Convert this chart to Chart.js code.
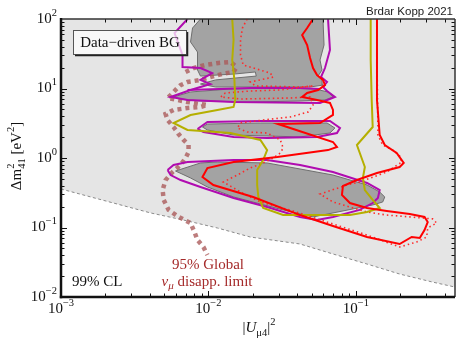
<!DOCTYPE html>
<html>
<head>
<meta charset="utf-8">
<script src="https://cdn.jsdelivr.net/npm/chart.js@4.4.1/dist/chart.umd.min.js"></script>
<style>
  html, body { margin: 0; padding: 0; background: #fff; }
  canvas { display: block; }
</style>
</head>
<body>
<canvas id="chartContours" width="456" height="342"></canvas>
<script>
// axis ranges and decade ticks
const xRange = [1e-3, 0.47];
const yRange = [1e-2, 1e2];
const xTicks = [1e-3, 1e-2, 1e-1];
const xTickLabels = ["\u22123", "\u22122", "\u22121"];
const yTicks = [1e-2, 1e-1, 1, 10, 100];
const yTickLabels = ["\u22122", "\u22121", "0", "1", "2"];

// lower edge of the light shaded region, [|U_mu4|^2, dm2_41]
const bgEdge = [[0.001,0.358],[0.00405,0.162],[0.00678,0.128],[0.0115,0.0984],[0.0192,0.073],[0.0418,0.0579],[0.0699,0.0416],[0.119,0.0298],[0.198,0.0214],[0.331,0.0164],[0.47,0.0139]];

// dark gray allowed islands
const regionA = [[0.00883,100],[0.0078,74.2],[0.00756,46.7],[0.00843,33.5],[0.00843,18.5],[0.00883,15.1],[0.0152,16.2],[0.0208,17.3],[0.0211,15.1],[0.0112,13.3],[0.00883,11.6],[0.0112,10.5],[0.0225,10.5],[0.0489,10.5],[0.0598,11.2],[0.0589,13.3],[0.0554,15.1],[0.0589,18.5],[0.0571,25.7],[0.0608,42.3],[0.0598,100]];
const regionB = [[0.0058,7.55],[0.00756,8.91],[0.0141,9.84],[0.0307,10.2],[0.0528,9.84],[0.0647,8.91],[0.0699,7.55],[0.0617,6.83],[0.0418,6.61],[0.0192,6.39],[0.00883,6.61],[0.00647,7.06]];
const regionC = [[0.00911,2.79],[0.00984,3.08],[0.0225,3.19],[0.0637,3.19],[0.0721,2.70],[0.0667,2.29],[0.0418,2.01],[0.0148,2.14],[0.00984,2.53]];
const regionD = [[0.00598,0.650],[0.00883,0.848],[0.0115,0.876],[0.025,0.848],[0.0699,0.569],[0.119,0.409],[0.145,0.324],[0.157,0.275],[0.152,0.233],[0.130,0.211],[0.0699,0.162],[0.0512,0.142],[0.0321,0.179],[0.0148,0.275],[0.00984,0.383],[0.00756,0.516]];

// purple contours
const purpleOuter = [[0.00721,100],[0.00589,62.9],[0.00667,30.3],[0.00667,20.4],[0.00883,19.7],[0.0106,16.7],[0.00883,13.3],[0.0103,11.6],[0.00756,9.52],[0.00554,7.55],[0.00721,6.83],[0.0148,6.39],[0.0571,6.19],[0.0721,7.55],[0.0637,9.20],[0.0598,10.5],[0.0637,12.4],[0.058,14.6],[0.0617,19.7],[0.0667,35.8],[0.0647,100]];
const purpleGap = [[0.00721,9.52],[0.0192,10.2],[0.0418,10.2],[0.0571,9.84]];
const purpleMid = [[0.00843,2.61],[0.00984,3.30],[0.0225,3.41],[0.0667,3.41],[0.078,2.70],[0.0744,2.29],[0.0545,2.01],[0.025,1.94],[0.0148,2.01],[0.00925,2.37]];
const purpleLow = [[0.00528,0.672],[0.0058,0.793],[0.00721,0.876],[0.0148,0.936],[0.025,0.936],[0.0418,0.793],[0.0699,0.629],[0.119,0.437],[0.145,0.346],[0.141,0.266],[0.130,0.225],[0.106,0.179],[0.0699,0.142],[0.0545,0.128],[0.0418,0.142],[0.025,0.197],[0.0148,0.266],[0.00883,0.383],[0.00647,0.482],[0.00554,0.569]];

// olive contour
const olive = [[0.0145,100],[0.0148,49.9],[0.0145,25.7],[0.0150,13.3],[0.0152,6.83],[0.0148,5.42],[0.0115,4.91],[0.00756,4.16],[0.0058,3.19],[0.00721,2.53],[0.0141,2.29],[0.0225,1.82],[0.025,1.30],[0.0235,0.936],[0.0214,0.672],[0.0214,0.409],[0.0218,0.275],[0.0235,0.191],[0.0321,0.151],[0.0571,0.151],[0.0911,0.151],[0.119,0.167],[0.145,0.191],[0.130,0.249],[0.115,0.346],[0.1115,0.516],[0.115,0.742],[0.1016,1.54],[0.130,2.79],[0.128,6.83],[0.126,25.7],[0.126,100]];

// red solid and red dotted contours
const redSolid = [[0.0512,100],[0.0467,74.2],[0.0432,58.9],[0.0467,42.3],[0.0489,27.5],[0.0512,19.7],[0.0545,15.6],[0.0598,13.3],[0.0617,11.2],[0.0554,9.52],[0.0467,8.61],[0.0432,7.55],[0.0545,6.83],[0.0667,6.19],[0.0699,4.91],[0.0699,4.16],[0.0571,3.19],[0.0297,3.08],[0.0699,1.70],[0.0744,1.44],[0.0647,1.30],[0.0293,1.03],[0.0148,0.876],[0.00984,0.718],[0.00911,0.533],[0.0108,0.409],[0.0201,0.275],[0.0418,0.151],[0.0699,0.105],[0.119,0.073],[0.198,0.0579],[0.239,0.073],[0.271,0.0706],[0.292,0.092],[0.307,0.120],[0.292,0.142],[0.232,0.156],[0.162,0.173],[0.119,0.191],[0.0911,0.225],[0.0804,0.294],[0.0817,0.396],[0.1016,0.482],[0.139,0.608],[0.198,0.742],[0.211,0.848],[0.189,1.18],[0.157,1.54],[0.145,2.14],[0.139,6.83],[0.139,100]];
const redDotted = [[0.0183,100],[0.0170,74.2],[0.0165,49.9],[0.0165,30.3],[0.0172,21.8],[0.0262,16.7],[0.0275,14.6],[0.0192,12.4],[0.0208,10.9],[0.0418,10.5],[0.0512,10.9],[0.0307,9.52],[0.0192,9.20],[0.0130,8.61],[0.0121,7.55],[0.0165,7.06],[0.0358,7.30],[0.0489,7.55],[0.0512,5.79],[0.0474,4.59],[0.0358,3.89],[0.0235,3.52],[0.0165,3.19],[0.0157,2.70],[0.0183,2.37],[0.025,2.29],[0.0307,1.82],[0.0321,1.39],[0.0307,1.18],[0.0275,1.0],[0.0235,0.848],[0.0192,0.718],[0.0157,0.569],[0.0126,0.451],[0.0165,0.324],[0.0225,0.233],[0.0375,0.173],[0.0667,0.116],[0.119,0.078],[0.198,0.0524],[0.258,0.0619],[0.302,0.073],[0.307,0.0984],[0.353,0.116],[0.331,0.133],[0.232,0.142],[0.162,0.151],[0.119,0.167],[0.0699,0.233],[0.0571,0.303],[0.087,0.409],[0.106,0.451],[0.162,0.629],[0.205,0.876],[0.198,1.07],[0.178,1.30],[0.152,1.54],[0.141,2.14],[0.141,2.79],[0.139,25.7],[0.139,100]];

// 95% global nu_mu disappearance limit
const numuLimit = [[0.0070,17.3],[0.00792,19.7],[0.00954,21.8],[0.0117,23.3],[0.0141,24.1],[0.0155,20.4],[0.0148,17.3],[0.0124,16.2],[0.0103,14.6],[0.00883,13.3],[0.00721,12.4],[0.00647,11.2],[0.00617,10.2],[0.00554,8.06],[0.00528,7.30],[0.00617,6.83],[0.00721,6.39],[0.00883,5.98],[0.00984,5.79],[0.00883,5.42],[0.00721,5.24],[0.0058,4.91],[0.00512,4.30],[0.00528,3.52],[0.0058,2.79],[0.00627,2.21],[0.00678,1.82],[0.00733,1.54],[0.00733,1.22],[0.0070,1.0],[0.00647,0.793],[0.00571,0.629],[0.00512,0.482],[0.00489,0.346],[0.00497,0.249],[0.00537,0.179],[0.00627,0.142],[0.00756,0.116],[0.00804,0.0861],[0.00843,0.0661],[0.00925,0.0524],[0.00984,0.0402]];

const pts = arr => arr.map(([x, y]) => ({x, y}));
const closed = arr => pts(arr.concat([arr[0]]));

const SERIF = '"Liberation Serif", "Times New Roman", serif';

function line(ds, color, width, dash, order) {
    return {
        data: ds, showLine: true, fill: false, borderColor: color, borderWidth: width,
        borderDash: dash || [], pointRadius: 0, tension: 0, order: order
    };
}

function region(arr) {
    return Object.assign(line(closed(arr), "#6f6f6f", 1, null, 9), { polyFill: "#a3a3a3" });
}

// draw text made of pieces (normal, superscript, subscript)
function drawParts(ctx, parts, x, y, align) {
    let w = 0;
    parts.forEach(p => {
        ctx.font = (p.italic ? "italic " : "") + (p.size || 15) + "px " + SERIF;
        p.w = ctx.measureText(p.t).width;
        if (!p.stack) w += p.w;
    });
    let cx = align === "center" ? x - w / 2 : align === "right" ? x - w : x;
    ctx.textAlign = "left";
    ctx.textBaseline = "middle";
    parts.forEach(p => {
        ctx.font = (p.italic ? "italic " : "") + (p.size || 15) + "px " + SERIF;
        ctx.fillText(p.t, cx, y + (p.dy || 0));
        if (!p.stack) cx += p.w;
    });
}

const polyFillPlugin = {
    id: "polyFill",
    beforeDatasetDraw(chart, args) {
        const ds = chart.data.datasets[args.index];
        if (!ds.polyFill) return;
        const ctx = chart.ctx, a = chart.chartArea;
        ctx.save();
        ctx.beginPath();
        ctx.rect(a.left, a.top, a.right - a.left, a.bottom - a.top);
        ctx.clip();
        ctx.beginPath();
        args.meta.data.forEach((p, i) => i ? ctx.lineTo(p.x, p.y) : ctx.moveTo(p.x, p.y));
        ctx.closePath();
        ctx.fillStyle = ds.polyFill;
        ctx.fill();
        ctx.restore();
    }
};

const decorPlugin = {
    id: "decor",
    afterDatasetsDraw(chart) {
        const ctx = chart.ctx;
        ctx.save();
        // label box
        ctx.fillStyle = "rgba(255,255,255,0.72)";
        ctx.fillRect(73, 30, 114, 25);
        ctx.strokeStyle = "#555";
        ctx.lineWidth = 1;
        ctx.strokeRect(73.5, 30.5, 113, 24);
        ctx.strokeStyle = "#222";
        ctx.lineWidth = 1.5;
        ctx.beginPath();
        ctx.moveTo(75, 55.5); ctx.lineTo(187.5, 55.5); ctx.lineTo(187.5, 32);
        ctx.stroke();
        ctx.fillStyle = "#111";
        drawParts(ctx, [{ t: "Data\u2212driven BG" }], 130, 43, "center");

        ctx.fillStyle = "#111";
        drawParts(ctx, [{ t: "99% CL" }], 72, 282, "left");
        ctx.fillStyle = "#a52a2a";
        drawParts(ctx, [{ t: "95% Global" }], 208, 265, "center");
        drawParts(ctx, [{ t: "\u03bd", italic: true }, { t: "\u03bc", italic: true, size: 11, dy: 4 }, { t: " disapp. limit" }], 207, 282, "center");
        ctx.restore();
    },
    afterDraw(chart) {
        const { ctx, chartArea: a, scales: { x, y } } = chart;
        ctx.save();
        ctx.strokeStyle = "#111";
        ctx.lineWidth = 1;
        const seg = (x1, y1, x2, y2) => { ctx.beginPath(); ctx.moveTo(x1, y1); ctx.lineTo(x2, y2); ctx.stroke(); };
        for (let d = -3; d <= 0; d++) {
            for (let m = 1; m <= 9; m++) {
                const v = m * Math.pow(10, d);
                if (v < xRange[0] || v > xRange[1]) continue;
                const px = Math.round(x.getPixelForValue(v)) + 0.5;
                const len = m === 1 ? 6 : 3.5;
                seg(px, a.bottom, px, a.bottom - len);
                seg(px, a.top, px, a.top + len);
            }
        }
        for (let d = -2; d <= 1; d++) {
            for (let m = 1; m <= 9; m++) {
                const v = m * Math.pow(10, d);
                const py = Math.round(y.getPixelForValue(v)) + 0.5;
                const len = m === 1 ? 6 : 3.5;
                seg(a.left, py, a.left + len, py);
                seg(a.right, py, a.right - len, py);
            }
        }
        // frame
        ctx.strokeStyle = "#333";
        ctx.lineWidth = 1.5;
        seg(a.left, a.top, a.right, a.top);
        seg(a.right, a.top, a.right, a.bottom);
        ctx.strokeStyle = "#111";
        ctx.lineWidth = 2.5;
        seg(a.left, a.top - 1, a.left, a.bottom + 1.2);
        seg(a.left - 1.2, a.bottom, a.right, a.bottom);

        // tick labels
        ctx.fillStyle = "#111";
        xTicks.forEach((v, i) => {
            drawParts(ctx, [{ t: "10" }, { t: xTickLabels[i], size: 10.5, dy: -6 }], x.getPixelForValue(v), 309, "center");
        });
        yTicks.forEach((v, i) => {
            drawParts(ctx, [{ t: "10" }, { t: yTickLabels[i], size: 10.5, dy: -6 }], 57, y.getPixelForValue(v), "right");
        });

        // axis titles
        drawParts(ctx, [{ t: "|" }, { t: "U", italic: true }, { t: "\u03bc4", italic: false, size: 10.5, dy: 5 }, { t: "|" }, { t: "2", size: 10.5, dy: -6 }], 259, 328, "center");
        ctx.translate(17, 156);
        ctx.rotate(-Math.PI / 2);
        drawParts(ctx, [{ t: "\u0394m" }, { t: "2", size: 10.5, dy: -6, stack: true }, { t: "41", size: 10.5, dy: 5 }, { t: " [eV" }, { t: "2", size: 10.5, dy: -6 }, { t: "]" }], 0, 0, "center");
        ctx.restore();

        ctx.save();
        ctx.fillStyle = "#222";
        ctx.font = '11.5px "Liberation Sans", Arial, sans-serif';
        ctx.textAlign = "right";
        ctx.textBaseline = "middle";
        ctx.fillText("Brdar Kopp 2021", 453, 12);
        ctx.restore();
    }
};

new Chart(document.getElementById("chartContours"), {
    type: "scatter",
    data: {
        datasets: [
            Object.assign(line(pts(bgEdge), "#8a8a8a", 1, [3, 2.5], 10), { fill: "end", backgroundColor: "#e5e5e5" }),
            region(regionA),
            region(regionB),
            region(regionC),
            region(regionD),
            line(pts(numuLimit), "rgba(170,88,88,0.78)", 4.5, [4, 4], 8),
            line(pts(purpleOuter), "#b00cb0", 2, null, 7),
            line(pts(purpleGap), "#b00cb0", 2, null, 7),
            line(closed(purpleMid), "#b00cb0", 2, null, 7),
            line(closed(purpleLow), "#b00cb0", 2, null, 7),
            line(pts(redDotted), "#ff2a2a", 1.6, [1.5, 3], 6),
            line(pts(olive), "#b5af00", 2, null, 5),
            line(pts(redSolid), "#ff0000", 2, null, 4)
        ]
    },
    options: {
        responsive: false,
        animation: false,
        layout: { padding: { left: 61, top: 19, right: 1, bottom: 45 } },
        scales: {
            x: { type: "logarithmic", min: xRange[0], max: xRange[1], display: false },
            y: { type: "logarithmic", min: yRange[0], max: yRange[1], display: false }
        },
        plugins: { legend: { display: false }, tooltip: { enabled: false } }
    },
    plugins: [polyFillPlugin, decorPlugin]
});
</script>
</body>
</html>
